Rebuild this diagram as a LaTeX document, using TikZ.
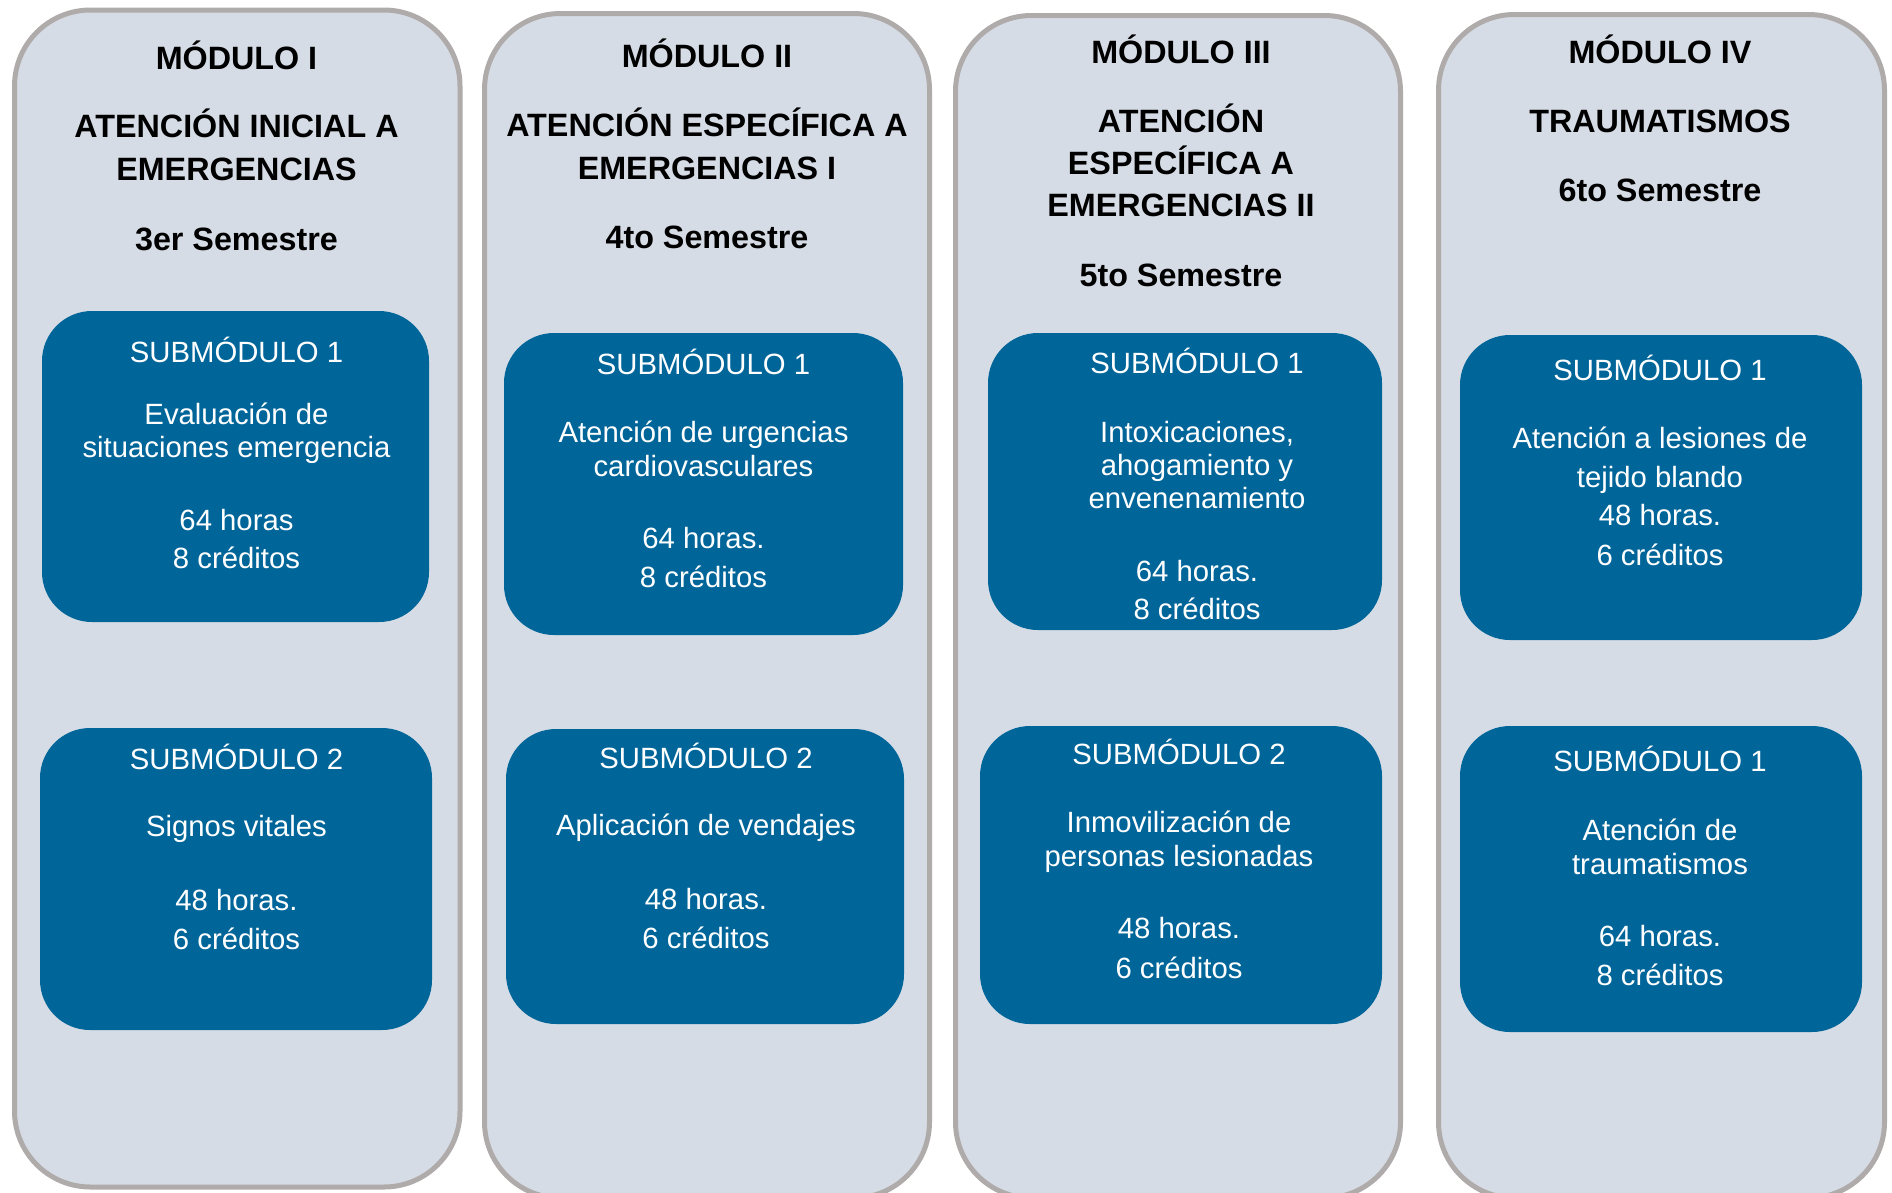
\documentclass[tikz,border=0pt]{standalone}
\usepackage{fontspec}
\setmainfont{Liberation Sans}
\definecolor{colfill}{RGB}{214,220,229}
\definecolor{colborder}{RGB}{175,171,171}
\definecolor{subblue}{RGB}{0,101,153}
\newcommand\TL[5]{\node[#5, anchor=base] (#1) at (#2,#3) {#4};}
\begin{document}
\begin{tikzpicture}[x=1pt,y=-1pt,
  outerbox/.style={fill=colfill, draw=colborder, line width=5pt, rounded corners=76pt},
  subbox/.style={fill=subblue, rounded corners=50pt},
  ttl/.style={inner sep=0pt, font=\fontsize{32.3}{38}\selectfont\bfseries, text=black},
  stx/.style={inner sep=0pt, font=\fontsize{29.3}{34}\selectfont, text=white}]
\useasboundingbox (0,0) rectangle (1892,1192);
\clip (0,0) rectangle (1892,1192);

% outer module columns
\draw[outerbox] (14.5,10) rectangle (460,1187);
\draw[outerbox] (484.5,13.5) rectangle (929.5,1198);
\draw[outerbox] (955.5,15.5) rectangle (1400.5,1198);
\draw[outerbox] (1438.5,14.5) rectangle (1884.5,1198);

% submodule boxes
\fill[subbox] (42,311) rectangle (429,622);
\fill[subbox] (40,728) rectangle (432,1030);
\fill[subbox] (504,333) rectangle (903,635);
\fill[subbox] (506,729) rectangle (904,1024);
\fill[subbox] (988,333) rectangle (1382,630);
\fill[subbox] (980,726) rectangle (1382,1024);
\fill[subbox] (1460,335) rectangle (1862,640);
\fill[subbox] (1460,726) rectangle (1862,1032);

% module I
\TL{m1a}{236.5}{69}{MÓDULO I}{ttl}
\TL{m1b}{236.5}{137}{ATENCIÓN INICIAL A}{ttl}
\TL{m1c}{236.5}{180}{EMERGENCIAS}{ttl}
\TL{m1d}{236.5}{250}{3er Semestre}{ttl}
% module II
\TL{m2a}{707}{67}{MÓDULO II}{ttl}
\TL{m2b}{707}{136}{ATENCIÓN ESPECÍFICA A}{ttl}
\TL{m2c}{707}{179}{EMERGENCIAS I}{ttl}
\TL{m2d}{707}{248}{4to Semestre}{ttl}
% module III
\TL{m3a}{1181}{63}{MÓDULO III}{ttl}
\TL{m3b}{1181}{132}{ATENCIÓN}{ttl}
\TL{m3c}{1181}{174}{ESPECÍFICA A}{ttl}
\TL{m3d}{1181}{216}{EMERGENCIAS II}{ttl}
\TL{m3e}{1181}{286}{5to Semestre}{ttl}
% module IV
\TL{m4a}{1660}{63}{MÓDULO IV}{ttl}
\TL{m4b}{1660}{132}{TRAUMATISMOS}{ttl}
\TL{m4c}{1660}{201}{6to Semestre}{ttl}

% col 1 sub 1
\TL{a1}{236.5}{362}{SUBMÓDULO 1}{stx}
\TL{a2}{236.5}{424}{Evaluación de}{stx}
\TL{a3}{236.5}{457}{situaciones emergencia}{stx}
\TL{a4}{236.5}{530}{64 horas}{stx}
\TL{a5}{236.5}{568}{8 créditos}{stx}
% col 1 sub 2
\TL{b1}{236.5}{769}{SUBMÓDULO 2}{stx}
\TL{b2}{236.5}{836}{Signos vitales}{stx}
\TL{b3}{236.5}{910}{48 horas.}{stx}
\TL{b4}{236.5}{949}{6 créditos}{stx}
% col 2 sub 1
\TL{c1}{703.5}{374}{SUBMÓDULO 1}{stx}
\TL{c2}{703.5}{442}{Atención de urgencias}{stx}
\TL{c3}{703.5}{476}{cardiovasculares}{stx}
\TL{c4}{703.5}{548}{64 horas.}{stx}
\TL{c5}{703.5}{587}{8 créditos}{stx}
% col 2 sub 2
\TL{d1}{706}{768}{SUBMÓDULO 2}{stx}
\TL{d2}{706}{835}{Aplicación de vendajes}{stx}
\TL{d3}{706}{909}{48 horas.}{stx}
\TL{d4}{706}{948}{6 créditos}{stx}
% col 3 sub 1
\TL{e1}{1197}{373}{SUBMÓDULO 1}{stx}
\TL{e2}{1197}{442}{Intoxicaciones,}{stx}
\TL{e3}{1197}{475}{ahogamiento y}{stx}
\TL{e4}{1197}{508}{envenenamiento}{stx}
\TL{e5}{1197}{581}{64 horas.}{stx}
\TL{e6}{1197}{619}{8 créditos}{stx}
% col 3 sub 2
\TL{f1}{1179}{764}{SUBMÓDULO 2}{stx}
\TL{f2}{1179}{832}{Inmovilización de}{stx}
\TL{f3}{1179}{866}{personas lesionadas}{stx}
\TL{f4}{1179}{938}{48 horas.}{stx}
\TL{f5}{1179}{978}{6 créditos}{stx}
% col 4 sub 1
\TL{g1}{1660}{380}{SUBMÓDULO 1}{stx}
\TL{g2}{1660}{448}{Atención a lesiones de}{stx}
\TL{g3}{1660}{487}{tejido blando}{stx}
\TL{g4}{1660}{525}{48 horas.}{stx}
\TL{g5}{1660}{565}{6 créditos}{stx}
% col 4 sub 2
\TL{h1}{1660}{771}{SUBMÓDULO 1}{stx}
\TL{h2}{1660}{840}{Atención de}{stx}
\TL{h3}{1660}{874}{traumatismos}{stx}
\TL{h4}{1660}{946}{64 horas.}{stx}
\TL{h5}{1660}{985}{8 créditos}{stx}
\end{tikzpicture}
\end{document}
